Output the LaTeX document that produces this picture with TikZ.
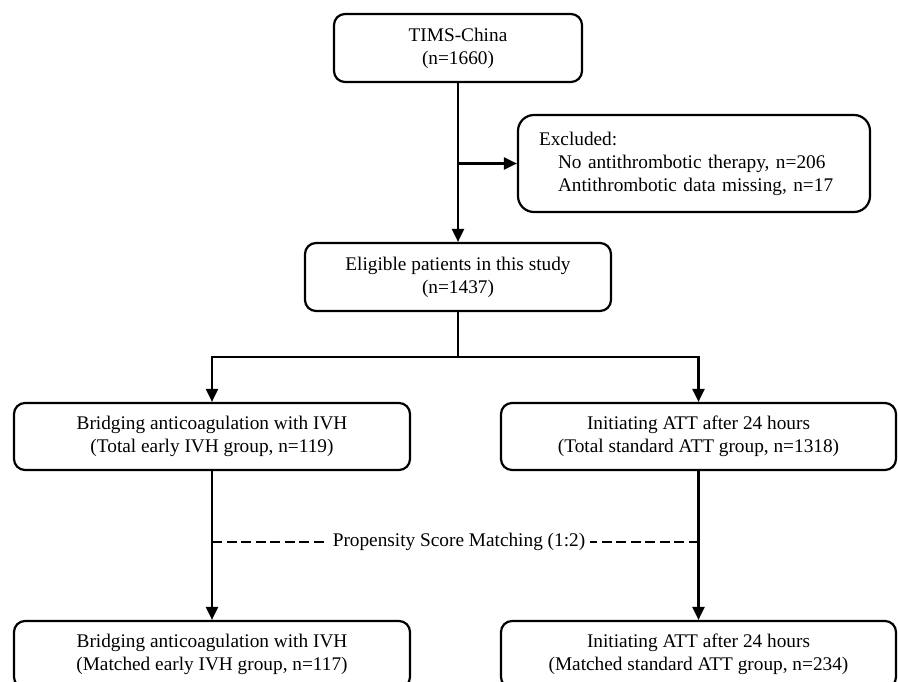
\documentclass[tikz,border=0pt]{standalone}
\usepackage{fontspec}
\setmainfont{Liberation Serif}
\usetikzlibrary{arrows.meta}
\begin{document}
\begin{tikzpicture}[x=1pt,y=-1pt,
  every node/.style={font=\fontsize{19.3}{23}\selectfont},
  box/.style={draw, line width=2.2pt, rounded corners=11pt, align=center, inner sep=0pt, minimum height=67pt},
  conn/.style={line width=2.2pt},
  arr/.style={line width=2.2pt, -{Triangle[length=13pt,width=12pt]}},
  dashline/.style={line width=2.2pt, dash pattern=on 10pt off 4.5pt}]
\path[use as bounding box] (0,0) rectangle (898,681);
\clip (0,0) rectangle (898,681);
\node[box, minimum width=248pt, minimum height=68pt] (tims) at (458,48) {TIMS-China\\(n=1660)};
\node[box, rounded corners=16pt, minimum width=352pt, minimum height=97pt, text width=310pt, inner xsep=21pt, align=left] (excl) at (694,163.5)
  {Excluded:\\\hspace*{19pt}No antithrombotic therapy, n=206\\\hspace*{19pt}Antithrombotic data missing, n=17};
\node[box, minimum width=306pt, minimum height=68pt] (elig) at (458,277) {Eligible patients in this study\\(n=1437)};
\node[box, minimum width=396pt] (l1) at (212,436.5) {Bridging anticoagulation with IVH\\(Total early IVH group, n=119)};
\node[box, minimum width=395pt] (r1) at (698.5,436.5) {Initiating ATT after 24 hours\\(Total standard ATT group, n=1318)};
\node[box, minimum width=396pt] (l2) at (212,654.5) {Bridging anticoagulation with IVH\\(Matched early IVH group, n=117)};
\node[box, minimum width=395pt] (r2) at (698.5,654.5) {Initiating ATT after 24 hours\\(Matched standard ATT group, n=234)};
\coordinate (j1) at (458,163.5);
\coordinate (split) at (458,357);
\draw[arr] (tims.south) -- (elig.north);
\draw[arr] (j1) -- (excl.west);
\draw[conn] (elig.south) -- (split);
\draw[arr] (split) -| (l1.north);
\draw[arr] (split) -| (r1.north);
\draw[arr] (l1.south) -- (l2.north);
\draw[arr] (r1.south) -- (r2.north);
\coordinate (pa) at (212,542);
\coordinate (pb) at (698.5,542);
\node[inner xsep=5pt, inner ysep=2pt] (psm) at (459,542) {Propensity Score Matching (1:2)};
\draw[dashline] (pa) -- (psm.west);
\draw[dashline] (pb) -- (psm.east);
\end{tikzpicture}
\end{document}
